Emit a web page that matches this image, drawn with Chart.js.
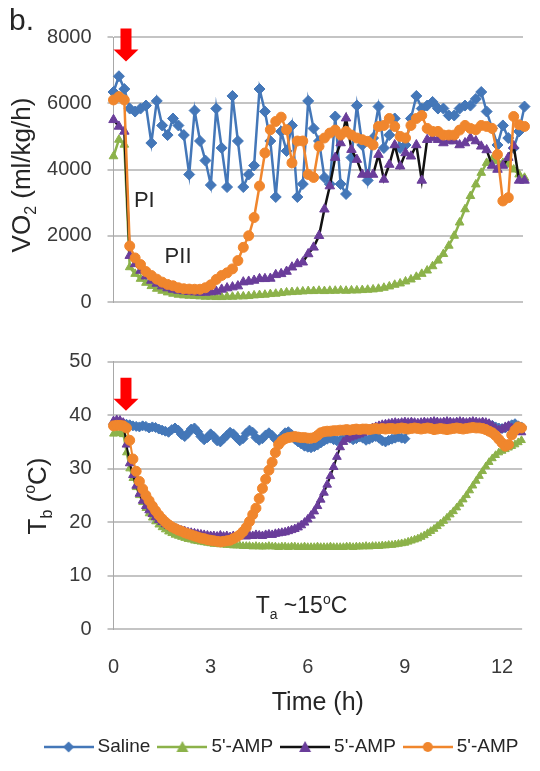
<!DOCTYPE html>
<html>
<head>
<meta charset="utf-8">
<script src="https://cdn.jsdelivr.net/npm/chart.js@4.4.0/dist/chart.umd.min.js"></script>
<style>
  html, body { margin: 0; padding: 0; background: #fff; }
  #wrap { position: relative; width: 540px; height: 771px; overflow: hidden; }
  #vo2Box { position: absolute; left: 0; top: 0; }
  #tbBox { position: absolute; left: 0; top: 330px; }
</style>
</head>
<body>
<div id="wrap">
  <div id="vo2Box"><canvas id="vo2Chart" width="540" height="330"></canvas></div>
  <div id="tbBox"><canvas id="tbChart" width="540" height="441"></canvas></div>
</div>
<script>
// ---- series names and axis ticks ----
const seriesNames = ['Saline', "5'-AMP", "5'-AMP", "5'-AMP"];
const vo2Ticks = [0, 2000, 4000, 6000, 8000];
const tbTicks = [0, 10, 20, 30, 40, 50];
const timeTicks = [0, 3, 6, 9, 12];
const timeMaxHours = 12.62;

// ---- VO2 (ml/kg/h), sampled every 10 min ----
const vo2Minutes = [
  0,10,20,30,40,50,60,70,80,90,
  100,110,120,130,140,150,160,170,180,190,
  200,210,220,230,240,250,260,270,280,290,
  300,310,320,330,340,350,360,370,380,390,
  400,410,420,430,440,450,460,470,480,490,
  500,510,520,530,540,550,560,570,580,590,
  600,610,620,630,640,650,660,670,680,690,
  700,710,720,730,740,750,760
];
const vo2Saline = [
  6340,6815,6430,5840,5750,5840,5930,4800,6070,5330,
  5040,5540,5330,5040,3850,5780,4860,4270,3530,5840,
  4650,3470,6220,4860,3470,3850,4120,6430,5750,4860,
  3170,5150,4560,5330,3170,3560,6070,5240,4860,3760,
  3560,5600,3560,3260,4360,5930,4740,3670,4950,5900,
  4650,5040,5540,4650,4740,5540,6220,5840,5930,6040,
  5840,5840,5630,5630,5840,5930,5930,6130,6340,5750,
  5240,4740,5330,4950,4650,5150,5900
];
const vo2AmpA = [
  4400,4900,4750,1050,850,700,580,480,400,340,
  290,250,220,200,190,180,170,160,160,150,
  150,160,160,170,170,180,200,210,220,240,
  250,270,290,300,310,320,330,330,340,330,
  340,340,350,340,350,350,360,370,380,400,
  430,470,520,560,620,680,760,850,950,1080,
  1250,1450,1700,2000,2400,2800,3200,3550,3900,4200,
  4300,4250,4200,4150,4000,3850,3750
];
const vo2AmpB = [
  5500,5300,5150,1400,1150,950,780,650,560,480,
  420,380,350,330,310,300,290,290,300,320,
  380,420,450,480,600,620,650,700,700,710,
  820,850,920,1050,1150,1200,1450,1650,2000,2800,
  3500,4360,4800,5550,4600,4300,3850,3850,3850,4450,
  3700,4150,4740,4100,4500,4400,4740,3670,4900,4950,
  4900,4800,4860,4860,4740,4800,4950,4860,4700,4590,
  4120,4000,4120,4360,4710,3670,3670
];
const vo2AmpC = [
  6100,6200,6100,1690,1330,1130,920,800,690,600,
  530,490,430,400,390,385,385,430,520,680,
  800,880,1000,1250,1650,2000,2550,3500,4500,5200,
  5450,5580,5200,4200,4860,4860,3850,3760,4700,4950,
  5100,5190,5040,5150,5040,4950,4900,4850,4740,5300,
  5330,5540,5300,5000,4950,5330,5540,5630,5240,5150,
  5150,5040,5040,5040,5190,5330,5240,5200,5330,5300,
  5240,4450,3050,3150,5600,5350,5300
];

// ---- body temperature (°C), sampled every 6 min ----
const tbMinutes = [
  0,6,12,18,24,30,36,42,48,54,
  60,66,72,78,84,90,96,102,108,114,
  120,126,132,138,144,150,156,162,168,174,
  180,186,192,198,204,210,216,222,228,234,
  240,246,252,258,264,270,276,282,288,294,
  300,306,312,318,324,330,336,342,348,354,
  360,366,372,378,384,390,396,402,408,414,
  420,426,432,438,444,450,456,462,468,474,
  480,486,492,498,504,510,516,522,528,534,
  540,546,552,558,564,570,576,582,588,594,
  600,606,612,618,624,630,636,642,648,654,
  660,666,672,678,684,690,696,702,708,714,
  720,726,732,738,744,750,756
];
const tbSaline = [
  38.3,38.4,38.5,38.4,38.3,38.2,
  38.0,37.9,37.8,38.0,37.9,
  37.6,37.8,37.7,37.4,37.2,
  37.0,36.8,37.3,37.6,37.2,
  36.4,36.0,36.6,37.4,37.6,
  36.9,36.0,35.4,35.8,36.5,
  36.0,35.2,35.0,35.6,36.2,
  36.8,36.5,35.8,35.2,35.6,
  36.6,37.2,36.8,35.8,35.3,
  35.6,36.3,36.7,36.2,35.5,
  35.4,36.0,36.7,36.9,36.4,
  35.5,35.0,34.6,34.2,34.0,
  33.9,34.1,34.4,34.8,35.2,
  35.5,35.7,35.4,35.2,35.3,
  35.7,35.9,35.7,35.4,35.6,
  35.9,35.7,35.3,35.5,35.8,
  36.0,35.7,35.2,35.0,35.3,
  35.5,35.7,35.9,35.7,35.6,
  37.4,37.7,37.8,37.9,37.9,
  38.0,38.0,37.9,38.0,38.0,
  38.0,38.1,38.0,38.0,38.1,
  38.0,38.1,38.1,38.0,38.1,
  38.1,38.2,38.1,38.2,38.2,
  38.2,38.1,37.8,37.6,37.5,
  37.6,37.9,38.2,38.4,38.0,
  37.8
];
const tbAmpA = [
  36.5,36.6,36.6,36.4,33.0,30.0,
  28.2,26.5,25.0,23.7,22.6,
  21.6,20.8,20.1,19.5,19.0,
  18.6,18.2,17.9,17.6,17.4,
  17.2,17.0,16.8,16.7,16.5,
  16.4,16.3,16.2,16.1,16.0,
  15.9,15.9,15.8,15.8,15.7,
  15.7,15.6,15.6,15.6,15.5,
  15.5,15.5,15.4,15.5,15.4,
  15.4,15.4,15.5,15.4,15.4,
  15.3,15.4,15.4,15.3,15.4,
  15.4,15.3,15.3,15.4,15.3,
  15.3,15.3,15.4,15.3,15.3,
  15.3,15.4,15.3,15.3,15.3,
  15.3,15.4,15.4,15.3,15.4,
  15.4,15.4,15.5,15.4,15.5,
  15.5,15.5,15.6,15.6,15.7,
  15.7,15.8,15.9,16.0,16.1,
  16.3,16.5,16.7,16.9,17.2,
  17.5,17.9,18.3,18.7,19.2,
  19.7,20.2,20.8,21.4,22.0,
  22.7,23.4,24.2,25.0,25.9,
  26.8,27.7,28.6,29.5,30.4,
  31.2,31.9,32.5,33.0,33.3,
  33.6,33.9,34.2,34.5,34.9,
  35.3
];
const tbAmpB = [
  38.9,39.1,39.0,38.6,34.5,31.0,
  28.8,26.8,25.3,24.0,23.0,
  22.2,21.5,20.9,20.4,20.0,
  19.6,19.3,19.0,18.8,18.6,
  18.4,18.3,18.1,18.0,17.9,
  17.8,17.7,17.6,17.5,17.4,
  17.4,17.3,17.5,17.3,17.4,
  17.2,17.4,17.3,17.5,17.4,
  17.3,17.5,17.4,17.6,17.5,
  17.4,17.6,17.7,17.6,17.8,
  17.9,18.0,18.1,18.3,18.5,
  18.7,19.0,19.4,19.9,20.5,
  21.2,22.0,23.0,24.2,25.5,
  27.0,28.6,30.3,32.2,34.0,
  35.0,35.5,35.8,36.0,36.2,
  36.4,36.7,37.0,37.3,37.6,
  37.8,38.0,38.2,38.3,38.4,
  38.5,38.6,38.5,38.6,38.7,
  38.6,38.7,38.6,38.5,38.6,
  38.7,38.6,38.7,38.8,38.7,
  38.6,38.7,38.8,38.7,38.6,
  38.7,38.8,38.7,38.6,38.7,
  38.8,38.7,38.6,38.7,38.6,
  38.4,38.0,37.5,37.2,37.4,
  37.8,38.0,37.6,37.2,36.9,
  36.8
];
const tbAmpC = [
  38.0,38.1,38.1,38.0,37.6,35.3,
  31.8,29.5,27.6,26.2,25.0,
  24.0,23.0,22.1,21.3,20.6,
  20.0,19.5,19.1,18.8,18.5,
  18.3,18.0,17.8,17.6,17.4,
  17.2,17.0,16.9,16.7,16.6,
  16.5,16.4,16.3,16.4,16.5,
  16.6,16.9,17.2,17.6,18.2,
  19.0,20.1,21.4,22.6,24.4,
  26.3,28.0,29.7,31.2,33.0,
  34.5,35.2,35.6,35.8,35.9,
  36.0,35.9,35.8,35.8,35.7,
  35.7,35.8,36.2,36.7,36.9,
  37.0,37.0,37.1,37.1,37.2,
  37.2,37.3,37.2,37.3,37.4,
  37.3,37.4,37.4,37.3,37.4,
  37.5,37.4,37.5,37.4,37.5,
  37.5,37.4,37.5,37.6,37.5,
  37.4,37.5,37.6,37.5,37.4,
  37.5,37.6,37.5,37.3,37.4,
  37.5,37.4,37.3,37.4,37.5,
  37.6,37.5,37.4,37.5,37.6,
  37.7,37.6,37.6,37.5,37.3,
  37.0,36.7,36.2,35.5,34.8,
  34.2,34.5,36.3,37.2,37.8,
  37.6
];

// ---- styling ----
const FONT = '"Liberation Sans", Arial, Helvetica, sans-serif';
const TEXT = '#262626';
const TICK = '#3a3a3a';
const GRID = '#c4c4c4';
const seriesStyle = [
  { line: '#4477b8', mark: '#4477b8', shape: 'rectRot' },
  { line: '#8cb24a', mark: '#8cb24a', shape: 'triangle' },
  { line: '#111111', mark: '#6a3d9a', shape: 'triangle' },
  { line: '#f0862d', mark: '#f0862d', shape: 'circle' }
];

function toPoints(minutes, values) {
  return minutes.map((m, i) => ({ x: m / 60, y: values[i] }));
}

function buildSets(minutes, seriesList, radii, lineWidth) {
  return seriesList.map((values, i) => ({
    label: seriesNames[i],
    data: toPoints(minutes, values),
    borderColor: seriesStyle[i].line,
    borderWidth: lineWidth,
    pointStyle: seriesStyle[i].shape,
    pointRadius: radii[i],
    pointBackgroundColor: seriesStyle[i].mark,
    pointBorderColor: seriesStyle[i].mark,
    pointBorderWidth: 1,
    tension: 0,
    clip: false,
    order: seriesList.length - 1 - i
  }));
}

// text made of plain / subscript / superscript runs
function richText(ctx, runs, x, y, size, align, angle) {
  const small = Math.round(size * 0.62);
  const parts = runs.map(([t, kind]) => {
    const s = kind ? small : size;
    ctx.font = s + 'px ' + FONT;
    return { t, kind, s, w: ctx.measureText(t).width };
  });
  const total = parts.reduce((a, p) => a + p.w, 0);
  ctx.save();
  ctx.translate(x, y);
  if (angle) ctx.rotate(angle);
  ctx.fillStyle = TEXT;
  ctx.textAlign = 'left';
  ctx.textBaseline = 'alphabetic';
  let cx = align === 'center' ? -total / 2 : 0;
  for (const p of parts) {
    ctx.font = p.s + 'px ' + FONT;
    const dy = p.kind === 'sub' ? size * 0.26 : (p.kind === 'sup' ? -size * 0.4 : 0);
    ctx.fillText(p.t, cx, dy);
    cx += p.w;
  }
  ctx.restore();
}

// red injection marker pointing down at (cx, tipY)
function downArrow(ctx, cx, tipY) {
  const shaftW = 11, headW = 25, headH = 12, total = 33;
  ctx.save();
  ctx.fillStyle = '#ff0000';
  ctx.beginPath();
  ctx.moveTo(cx - shaftW / 2, tipY - total);
  ctx.lineTo(cx + shaftW / 2, tipY - total);
  ctx.lineTo(cx + shaftW / 2, tipY - headH);
  ctx.lineTo(cx + headW / 2, tipY - headH);
  ctx.lineTo(cx, tipY);
  ctx.lineTo(cx - headW / 2, tipY - headH);
  ctx.lineTo(cx - shaftW / 2, tipY - headH);
  ctx.closePath();
  ctx.fill();
  ctx.restore();
}

const injectionHour = 0.385;

const vo2Notes = {
  id: 'vo2Notes',
  afterDraw(chart) {
    const { ctx, scales: { x, y } } = chart;
    ctx.save();
    ctx.fillStyle = TEXT;
    ctx.font = '30px ' + FONT;
    ctx.textAlign = 'left';
    ctx.textBaseline = 'alphabetic';
    ctx.fillText('b.', 9, 30);
    ctx.font = '22px ' + FONT;
    ctx.fillText('PI', x.getPixelForValue(0.63), y.getPixelForValue(2874));
    ctx.fillText('PII', x.getPixelForValue(1.575), y.getPixelForValue(1185));
    ctx.restore();
    richText(ctx, [['VO', ''], ['2', 'sub'], [' (ml/kg/h)', '']], 29.5, 175, 26, 'center', -Math.PI / 2);
    downArrow(ctx, x.getPixelForValue(injectionHour), y.getPixelForValue(7259));
  }
};

const tbNotes = {
  id: 'tbNotes',
  afterDraw(chart) {
    const { ctx, scales: { x, y } } = chart;
    richText(ctx, [['T', ''], ['b', 'sub'], [' (', ''], ['o', 'sup'], ['C)', '']], 45.5, 496 - 330, 26, 'center', -Math.PI / 2);
    richText(ctx, [['Time (h)', '']], (chart.chartArea.left + chart.chartArea.right) / 2, 710 - 330, 25, 'center', 0);
    richText(ctx, [['T', ''], ['a', 'sub'], [' ~15', ''], ['o', 'sup'], ['C', '']],
      x.getPixelForValue(4.39), y.getPixelForValue(2.99), 23, 'left', 0);
    downArrow(ctx, x.getPixelForValue(injectionHour), y.getPixelForValue(40.83));
  }
};

// legend icons: short line with the series marker in the middle
function legendIcon(i) {
  const c = document.createElement('canvas');
  c.width = 50; c.height = 14;
  const g = c.getContext('2d');
  const st = seriesStyle[i];
  g.strokeStyle = st.line;
  g.lineWidth = 2.5;
  g.beginPath(); g.moveTo(0, 7); g.lineTo(50, 7); g.stroke();
  g.fillStyle = st.mark;
  g.beginPath();
  if (st.shape === 'rectRot') {
    g.moveTo(25, 1.5); g.lineTo(30.5, 7); g.lineTo(25, 12.5); g.lineTo(19.5, 7);
  } else if (st.shape === 'triangle') {
    g.moveTo(25, 1); g.lineTo(31, 12); g.lineTo(19, 12);
  } else {
    g.arc(25, 7, 5, 0, Math.PI * 2);
  }
  g.closePath();
  g.fill();
  return c;
}
const legendIcons = seriesNames.map((_, i) => legendIcon(i));

const tickFont = { family: FONT, size: 20 };

new Chart(document.getElementById('vo2Chart'), {
  type: 'line',
  data: { datasets: buildSets(vo2Minutes, [vo2Saline, vo2AmpA, vo2AmpB, vo2AmpC], [5.5, 5, 5.5, 5], 2.5) },
  options: {
    responsive: false,
    animation: false,
    events: [],
    layout: { autoPadding: false, padding: { left: 0, right: 17, top: 37, bottom: 23 } },
    plugins: { legend: { display: false }, tooltip: { enabled: false } },
    scales: {
      x: { type: 'linear', min: 0, max: timeMaxHours, display: false },
      y: {
        type: 'linear', min: 0, max: 8000,
        afterBuildTicks: s => { s.ticks = vo2Ticks.map(v => ({ value: v })); },
        afterFit: s => { s.width = 113.5; },
        grid: { color: GRID, lineWidth: 2, tickLength: 6 },
        border: { display: true, color: '#a8a8a8', width: 1 },
        ticks: { padding: 16, color: TICK, font: tickFont, callback: v => String(v) }
      }
    }
  },
  plugins: [vo2Notes]
});

new Chart(document.getElementById('tbChart'), {
  type: 'line',
  data: { datasets: buildSets(tbMinutes, [tbSaline, tbAmpA, tbAmpB, tbAmpC], [5, 4.5, 5, 5], 2) },
  options: {
    responsive: false,
    animation: false,
    events: [],
    layout: { autoPadding: false, padding: { left: 31.8, right: 4.2, top: 31.7, bottom: 4.5 } },
    plugins: {
      tooltip: { enabled: false },
      legend: {
        position: 'bottom',
        align: 'center',
        labels: {
          usePointStyle: true,
          pointStyleWidth: 39,
          padding: 12.5,
          color: TEXT,
          font: { family: FONT, size: 19 },
          generateLabels: () => seriesNames.map((name, i) => ({
            text: name,
            pointStyle: legendIcons[i],
            fillStyle: seriesStyle[i].mark,
            strokeStyle: seriesStyle[i].line,
            lineWidth: 0,
            hidden: false,
            fontColor: TEXT,
            datasetIndex: i
          }))
        }
      }
    },
    scales: {
      x: {
        type: 'linear', min: 0, max: timeMaxHours,
        afterBuildTicks: s => { s.ticks = timeTicks.map(v => ({ value: v })); },
        afterFit: s => { s.height = 96; },
        grid: { display: false, drawTicks: false },
        border: { display: false },
        ticks: { padding: 26, color: TICK, font: tickFont, maxRotation: 0, autoSkip: false, callback: v => String(v) }
      },
      y: {
        type: 'linear', min: 0, max: 50,
        afterBuildTicks: s => { s.ticks = tbTicks.map(v => ({ value: v })); },
        afterFit: s => { s.width = 81.7; },
        grid: { color: GRID, lineWidth: 2, tickLength: 6 },
        border: { display: true, color: '#a8a8a8', width: 1 },
        ticks: { padding: 16, color: TICK, font: tickFont, callback: v => String(v) }
      },
      // empty right-hand margin so the plot ends where the upper panel ends
      yMargin: {
        type: 'linear', position: 'right', min: 0, max: 1,
        afterFit: s => { s.width = 12.8; },
        grid: { display: false, drawTicks: false },
        border: { display: false },
        ticks: { display: false }
      }
    }
  },
  plugins: [tbNotes]
});
</script>
</body>
</html>
